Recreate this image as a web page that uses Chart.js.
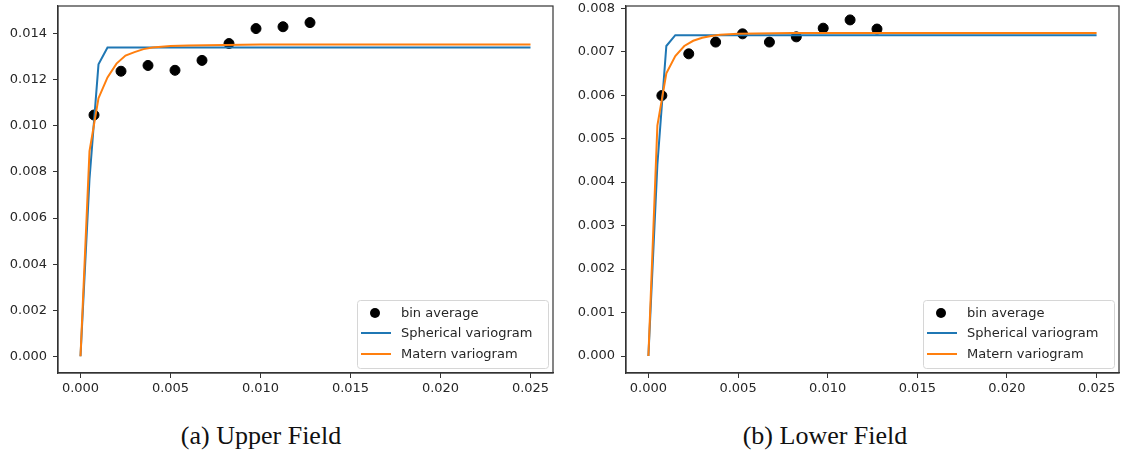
<!DOCTYPE html>
<html>
<head>
<meta charset="utf-8">
<script src="https://cdn.jsdelivr.net/npm/chart.js@4.4.1/dist/chart.umd.min.js"></script>
<style>
  body { margin: 0; background: #fff; width: 1125px; height: 457px; position: relative; overflow: hidden; }
  .wrap { position: absolute; top: 0; height: 400px; }
  .cap { position: absolute; top: 423px; font-family: "Liberation Serif", serif; font-size: 26px; line-height: 26px; color: #111; white-space: nowrap; transform: translateX(-50%); }
</style>
</head>
<body>
<div class="wrap" style="left:0;width:563px"><canvas id="upper"></canvas></div>
<div class="wrap" style="left:563px;width:562px"><canvas id="lower"></canvas></div>
<div class="cap" style="left:261px">(a) Upper Field</div>
<div class="cap" style="left:825px">(b) Lower Field</div>
<script>
// bin averages
const binX = [0.00075, 0.00225, 0.00375, 0.00525, 0.00675, 0.00825, 0.00975, 0.01125, 0.01275]
const upperBin = [0.01047, 0.01237, 0.01262, 0.01241, 0.01284, 0.01357, 0.01422, 0.0143, 0.01448]
const lowerBin = [0.00599, 0.00695, 0.00722, 0.00741, 0.00722, 0.00734, 0.00754, 0.00773, 0.00752]

// spherical fit
const sphX = [0, 0.0005, 0.001, 0.0015, 0.025]
const upperSph = [0, 0.0077, 0.01267, 0.0134, 0.0134]
const lowerSph = [0, 0.0044, 0.00713, 0.00738, 0.00738]

// matern fit
const matX = [0, 0.0005, 0.001, 0.0015, 0.002, 0.0025, 0.003, 0.0035, 0.004, 0.005, 0.006, 0.008, 0.01, 0.015, 0.025]
const upperMat = [0, 0.0089, 0.0112, 0.0121, 0.0127, 0.01305, 0.0132, 0.01333, 0.0134, 0.01346, 0.01349, 0.01351, 0.01353, 0.01353, 0.01353]
const lowerMat = [0, 0.0053, 0.0065, 0.0069, 0.00713, 0.00725, 0.00732, 0.00736, 0.00739, 0.00741, 0.00742, 0.00743, 0.00743, 0.00743, 0.00743]

// ticks
const xTicks = [0, 0.005, 0.01, 0.015, 0.02, 0.025]
const xTickLabels = ['0.000', '0.005', '0.010', '0.015', '0.020', '0.025']
const upperYTicks = [0, 0.002, 0.004, 0.006, 0.008, 0.01, 0.012, 0.014]
const upperYLabels = ['0.000', '0.002', '0.004', '0.006', '0.008', '0.010', '0.012', '0.014']
const lowerYTicks = [0, 0.001, 0.002, 0.003, 0.004, 0.005, 0.006, 0.007, 0.008]
const lowerYLabels = ['0.000', '0.001', '0.002', '0.003', '0.004', '0.005', '0.006', '0.007', '0.008']

const legendNames = ['bin average', 'Spherical variogram', 'Matern variogram']
const BLUE = '#1f77b4', ORANGE = '#ff7f0e'
const FONT = '"DejaVu Sans", sans-serif'

function pts(xs, ys) { return xs.map((x, i) => ({ x: x, y: ys[i] })) }

// frame on all four sides + matplotlib-ish legend box
const framePlugin = {
  id: 'frame',
  afterDraw(chart) {
    const ctx = chart.ctx, a = chart.chartArea
    ctx.save()
    ctx.strokeStyle = '#333'
    ctx.lineWidth = 1.2
    ctx.strokeRect(a.left, a.top, a.right - a.left, a.bottom - a.top)

    // legend
    const w = 191, h = 68
    const bx = a.right - 5 - w, by = a.bottom - 5 - h
    ctx.beginPath()
    ctx.roundRect(bx + 0.5, by + 0.5, w, h, 3)
    ctx.fillStyle = 'rgba(255,255,255,0.85)'
    ctx.fill()
    ctx.strokeStyle = '#d6d6d6'
    ctx.lineWidth = 1
    ctx.stroke()
    const rows = [by + 13, by + 33, by + 54]
    ctx.fillStyle = '#000'
    ctx.beginPath()
    ctx.arc(bx + 18, rows[0], 5, 0, Math.PI * 2)
    ctx.fill()
    ctx.lineWidth = 2
    ctx.strokeStyle = BLUE
    ctx.beginPath(); ctx.moveTo(bx + 4, rows[1]); ctx.lineTo(bx + 34, rows[1]); ctx.stroke()
    ctx.strokeStyle = ORANGE
    ctx.beginPath(); ctx.moveTo(bx + 4, rows[2]); ctx.lineTo(bx + 34, rows[2]); ctx.stroke()
    ctx.font = '13px ' + FONT
    ctx.fillStyle = '#262626'
    ctx.textBaseline = 'middle'
    legendNames.forEach((n, i) => ctx.fillText(n, bx + 44, rows[i] + 1))
    ctx.restore()
  }
}

function makeChart(id, bins, sph, mat, yTicks, yLabels, yMin, yMax, yWidth, padRight) {
  return new Chart(document.getElementById(id), {
    type: 'scatter',
    data: {
      datasets: [
        { label: legendNames[0], data: pts(binX, bins), backgroundColor: '#000', borderColor: '#000', pointRadius: 5, pointHoverRadius: 5, order: 3 },
        { label: legendNames[1], data: pts(sphX, sph), showLine: true, borderColor: BLUE, borderWidth: 2, pointRadius: 0, tension: 0, order: 2 },
        { label: legendNames[2], data: pts(matX, mat), showLine: true, borderColor: ORANGE, borderWidth: 2, pointRadius: 0, tension: 0, order: 1 }
      ]
    },
    options: {
      responsive: false,
      animation: false,
      events: [],
      layout: { padding: { left: 0, right: padRight, top: 3, bottom: 0 } },
      plugins: { legend: { display: false }, tooltip: { enabled: false } },
      scales: {
        x: {
          type: 'linear', min: -0.00125, max: 0.02625,
          afterBuildTicks: s => { s.ticks = xTicks.map(v => ({ value: v })) },
          afterFit: s => { s.height = 27; s.paddingLeft = 0; s.paddingRight = 0 },
          ticks: { callback: (v, i) => xTickLabels[i], font: { family: FONT, size: 13 }, color: '#262626', padding: 3, maxRotation: 0, autoSkip: false },
          grid: { drawOnChartArea: false, drawTicks: true, tickLength: 5, tickColor: '#333', tickWidth: 1 },
          border: { display: true, color: '#333', width: 1.2 }
        },
        y: {
          type: 'linear', min: yMin, max: yMax,
          afterBuildTicks: s => { s.ticks = yTicks.map(v => ({ value: v })) },
          afterFit: s => { s.width = yWidth; s.paddingTop = 0; s.paddingBottom = 0 },
          ticks: { callback: (v, i) => yLabels[i], font: { family: FONT, size: 13 }, color: '#262626', padding: 6, autoSkip: false },
          grid: { drawOnChartArea: false, drawTicks: true, tickLength: 5, tickColor: '#333', tickWidth: 1 },
          border: { display: true, color: '#333', width: 1.2 }
        }
      }
    },
    plugins: [framePlugin]
  })
}

document.getElementById('upper').width = 563
document.getElementById('upper').height = 400
document.getElementById('lower').width = 562
document.getElementById('lower').height = 400

makeChart('upper', upperBin, upperSph, upperMat, upperYTicks, upperYLabels, -0.000724, 0.0152, 58, 10)
makeChart('lower', lowerBin, lowerSph, lowerMat, lowerYTicks, lowerYLabels, -0.00039, 0.00805, 63, 2)
</script>
</body>
</html>
